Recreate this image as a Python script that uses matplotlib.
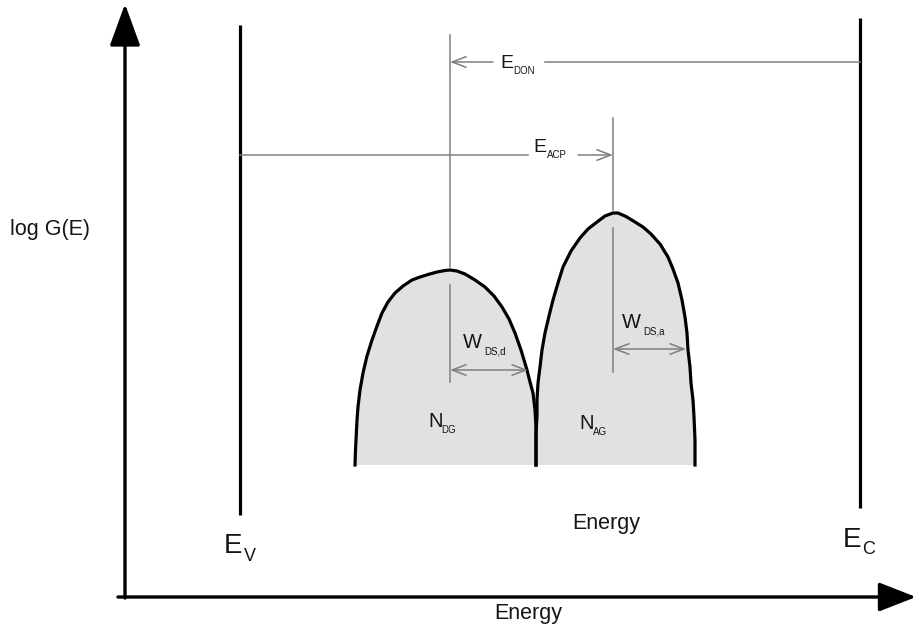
import matplotlib.pyplot as plt

# schematic drawn in pixel-like units (x right, y down)
donor_x = [355, 355.5, 356, 357, 358, 360, 363, 367, 372, 377, 382, 388, 395, 403, 412, 420, 428, 437, 445,
           450, 457, 465, 475, 485, 494, 502, 509, 515, 521, 527, 530, 533, 535, 536, 536, 536]
donor_y = [465, 450, 440, 420, 407, 390, 373, 356, 340, 326, 313, 302, 293, 286, 280, 277, 274.5, 272, 270.5,
           270, 271, 274, 280, 287, 296, 307, 319, 333, 350, 370, 382, 393, 410, 427, 445, 465]

acceptor_x = [536, 536, 536, 537, 537, 538, 540, 542, 545, 549, 553, 558, 563, 571, 580, 588, 597, 605, 613,
              618, 626, 635, 643, 651, 660, 668, 673, 678, 682, 685, 687, 688, 690, 691, 693, 694, 695, 695]
acceptor_y = [465, 450, 433, 416, 400, 383, 367, 350, 333, 316, 300, 283, 267, 251, 238, 229, 222, 216, 213,
              213, 216.5, 222, 227, 234, 244, 257, 269, 283, 300, 317, 333, 350, 367, 383, 400, 417, 440, 465]

ev_x, ec_x = 240, 860
donor_peak_x, acceptor_peak_x = 450, 613
w_ds_d = (450, 528)
w_ds_a = (613, 686)

TXT = '#151515'
GREY = '#7f7f7f'
FONT = ['Liberation Sans', 'DejaVu Sans']

fig = plt.figure(figsize=(9.17, 6.33), dpi=100)
ax = fig.add_axes([0, 0, 1, 1])
ax.set_xlim(0, 917)
ax.set_ylim(633, 0)
ax.axis('off')


def arrow(x0, y0, x1, y1, style, color, lw, **kw):
    ax.annotate('', xy=(x1, y1), xytext=(x0, y0),
                arrowprops=dict(arrowstyle=style, color=color, lw=lw,
                                shrinkA=0, shrinkB=0, **kw))


def label(x, y, main, sub, size, subsize, dx, dy):
    ax.text(x, y, main, fontsize=size, color=TXT, family=FONT, va='baseline', ha='left')
    ax.text(x + dx, y + dy, sub, fontsize=subsize, color=TXT, family=FONT, va='baseline', ha='left')


# main axes with filled arrow heads
arrow(125, 598, 125, 4, '-|>,head_length=2.6,head_width=0.95', 'black', 2.4, mutation_scale=10)
arrow(118, 597, 916, 597, '-|>,head_length=2.3,head_width=0.9', 'black', 2.4, mutation_scale=10)

# band edges
ax.plot([ev_x, ev_x], [25, 515], color='black', lw=2.3, solid_capstyle='butt')
ax.plot([ec_x, ec_x], [18, 508], color='black', lw=2.3, solid_capstyle='butt')

# gaussian bands
ax.fill(donor_x, donor_y, color='#e1e1e1', lw=0)
ax.fill(acceptor_x, acceptor_y, color='#e1e1e1', lw=0)
ax.plot(donor_x, donor_y, color='black', lw=2.3, solid_joinstyle='round')
ax.plot(acceptor_x, acceptor_y, color='black', lw=2.3, solid_joinstyle='round')

# guide lines
thin = dict(color=GREY, lw=1.1)
ax.plot([donor_peak_x, donor_peak_x], [35, 267], **thin)
ax.plot([acceptor_peak_x, acceptor_peak_x], [118, 210], **thin)
ax.plot([donor_peak_x, donor_peak_x], [285, 382], **thin)
ax.plot([acceptor_peak_x, acceptor_peak_x], [228, 372], **thin)

open_head = '->,head_length=1.0,head_width=0.38'
# E_DON: from Ec back to donor level, with a gap for the label
ax.plot([545, ec_x], [62, 62], **thin)
arrow(493, 62, donor_peak_x, 62, open_head, GREY, 1.1, mutation_scale=10)
# E_ACP: from Ev to acceptor level
ax.plot([ev_x, 528], [155, 155], **thin)
arrow(578, 155, acceptor_peak_x, 155, open_head, GREY, 1.1, mutation_scale=10)
# widths
arrow(w_ds_d[0], 370, w_ds_d[1], 370, '<->,head_length=1.0,head_width=0.38', GREY, 1.1, mutation_scale=10)
arrow(w_ds_a[0], 349, w_ds_a[1], 349, '<->,head_length=1.0,head_width=0.38', GREY, 1.1, mutation_scale=10)

# labels
label(500, 68, 'E', 'DON', 14, 7, 13, 6)
label(533, 152, 'E', 'ACP', 14, 7, 14, 6)
label(463, 348, 'W', 'DS,d', 14.5, 7, 21, 6)
label(622, 328, 'W', 'DS,a', 14.5, 7, 21, 6)
label(428, 427, 'N', 'DG', 14.5, 7, 13, 6)
label(579, 429, 'N', 'AG', 14.5, 7, 14, 6)
label(224, 553, 'E', 'V', 20, 13, 20, 8)
label(843, 547, 'E', 'C', 20, 13, 19, 7)

ax.text(10, 230, 'log G(E)', fontsize=15.5, color=TXT, family=FONT, va='center', ha='left')
ax.text(606, 523, 'Energy', fontsize=15.5, color=TXT, family=FONT, va='center', ha='center')
ax.text(528, 613, 'Energy', fontsize=15.5, color=TXT, family=FONT, va='center', ha='center')

fig.savefig('out.png', dpi=100)
